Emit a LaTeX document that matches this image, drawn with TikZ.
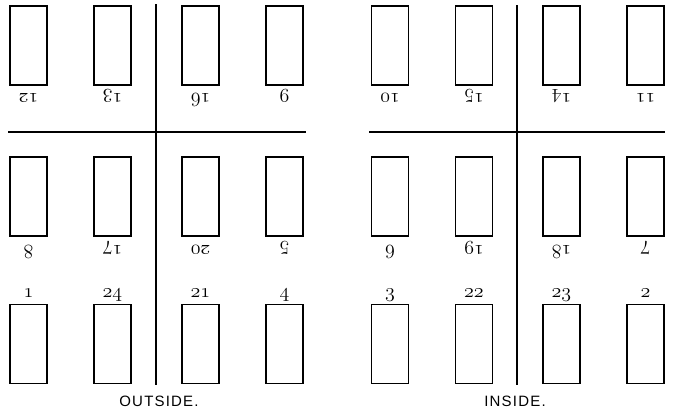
\RequirePackage{fix-cm}
\documentclass[tikz,border=0pt]{standalone}
\usepackage{tikz}
\usetikzlibrary{positioning}
\usepackage{fontspec}
\newfontfamily\capfont[LetterSpace=8]{Liberation Sans}
\newcommand{\oldnum}[1]{{\fontsize{20}{20}\usefont{OML}{cmm}{m}{it}#1}}

\begin{document}
\begin{tikzpicture}[
    x=1pt, y=-1pt,
    slot/.style={draw, line width=1.3pt, minimum width=37pt, minimum height=79pt, inner sep=0pt},
    upnum/.style={inner sep=0pt, anchor=base},
    downnum/.style={inner sep=0pt, anchor=base, rotate=180},
    divider/.style={line width=2.8pt},
    caption/.style={font=\capfont\fontsize{15}{15}\selectfont, inner sep=0pt},
]
    \useasboundingbox (0,0) rectangle (673,413);

    % outside
    \node[slot] (o12) at (28.5,45.5) {};
    \node[slot] (o13) at (112.5,45.5) {};
    \node[slot] (o16) at (200.5,45.5) {};
    \node[slot] (o9) at (284.5,45.5) {};
    \node[slot] (o8) at (28.5,196.5) {};
    \node[slot] (o17) at (112.5,196.5) {};
    \node[slot] (o20) at (200.5,196.5) {};
    \node[slot] (o5) at (284.5,196.5) {};
    \node[slot] (o1) at (28.5,344) {};
    \node[slot] (o24) at (112.5,344) {};
    \node[slot] (o21) at (200.5,344) {};
    \node[slot] (o4) at (284.5,344) {};

    \node[below=7.5pt of o12, downnum] (n12) {\oldnum{12}};
    \node[below=7.5pt of o13, downnum] (n13) {\oldnum{13}};
    \node[below=7.5pt of o16, downnum] (n16) {\oldnum{16}};
    \node[below=7.5pt of o9, downnum] (n9) {\oldnum{9}};
    \node[below=8.5pt of o8, downnum] (n8) {\oldnum{8}};
    \node[below=8.5pt of o17, downnum] (n17) {\oldnum{17}};
    \node[below=8.5pt of o20, downnum] (n20) {\oldnum{20}};
    \node[below=8.5pt of o5, downnum] (n5) {\oldnum{5}};
    \node[above=6pt of o1, upnum] (n1) {\oldnum{1}};
    \node[above=6pt of o24, upnum] (n24) {\oldnum{24}};
    \node[above=6pt of o21, upnum] (n21) {\oldnum{21}};
    \node[above=6pt of o4, upnum] (n4) {\oldnum{4}};

    \draw[divider] (156,4) -- (156,385);
    \draw[divider] (8,132) -- (306,132);
    \node[caption] (outside) at (159,401.5) {OUTSIDE.};

    % inside
    \node[slot] (i10) at (390,45.5) {};
    \node[slot] (i15) at (474,45.5) {};
    \node[slot] (i14) at (561.5,45.5) {};
    \node[slot] (i11) at (645.5,45.5) {};
    \node[slot] (i6) at (390,196.5) {};
    \node[slot] (i19) at (474,196.5) {};
    \node[slot] (i18) at (561.5,196.5) {};
    \node[slot] (i7) at (645.5,196.5) {};
    \node[slot] (i3) at (390,344) {};
    \node[slot] (i22) at (474,344) {};
    \node[slot] (i23) at (561.5,344) {};
    \node[slot] (i2) at (645.5,344) {};

    \node[below=7.5pt of i10, downnum] (n10) {\oldnum{10}};
    \node[below=7.5pt of i15, downnum] (n15) {\oldnum{15}};
    \node[below=7.5pt of i14, downnum] (n14) {\oldnum{14}};
    \node[below=7.5pt of i11, downnum] (n11) {\oldnum{11}};
    \node[below=8.5pt of i6, downnum] (n6) {\oldnum{6}};
    \node[below=8.5pt of i19, downnum] (n19) {\oldnum{19}};
    \node[below=8.5pt of i18, downnum] (n18) {\oldnum{18}};
    \node[below=8.5pt of i7, downnum] (n7) {\oldnum{7}};
    \node[above=6pt of i3, upnum] (n3) {\oldnum{3}};
    \node[above=6pt of i22, upnum] (n22) {\oldnum{22}};
    \node[above=6pt of i23, upnum] (n23) {\oldnum{23}};
    \node[above=6pt of i2, upnum] (n2) {\oldnum{2}};

    \draw[divider] (517,5) -- (517,385);
    \draw[divider] (369,132) -- (665,132);
    \node[caption] (inside) at (515,401.5) {INSIDE.};
\end{tikzpicture}
\end{document}
